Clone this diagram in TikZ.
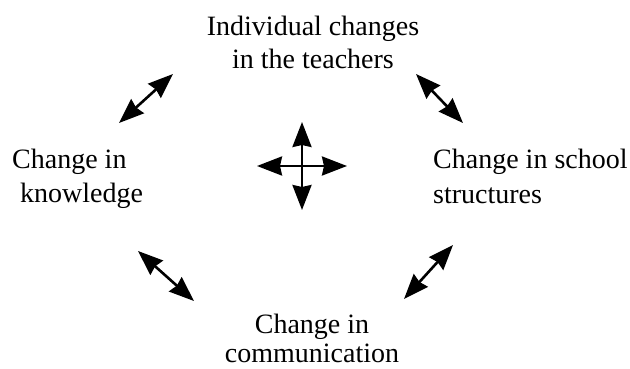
\documentclass[tikz,border=0pt]{standalone}
\usepackage{fontspec}
\setmainfont{Liberation Serif}
\usepackage{tikz}
\usetikzlibrary{arrows.meta}
\tikzstyle{label} = [inner sep=0pt, anchor=base]
\tikzstyle{line} = [draw, line width=2.6pt, {Stealth[length=25pt,width=19pt,inset=2pt]}-{Stealth[length=25pt,width=19pt,inset=2pt]}]

\begin{document}
\begin{tikzpicture}[x=1pt, y=-1pt]
  \useasboundingbox (0,0) rectangle (630,369);
   % Place nodes (base = baseline of the last line)
    \node [label, align=center, font=\fontsize{28}{33}\selectfont] (teachers) at (313,69) {Individual changes\\in the teachers};
    \node [label, align=left, anchor=base west, font=\fontsize{28}{34}\selectfont] (knowledge) at (12,202) {Change in\\\hspace{8pt}knowledge};
    \node [label, align=left, anchor=base west, font=\fontsize{28}{35}\selectfont] (school) at (433,203) {Change in school\\structures};
    \node [label, align=center, font=\fontsize{28}{29}\selectfont] (communication) at (312,362) {Change in\\communication};
   % Arrow ends
    \coordinate (tl1) at (119,123);  \coordinate (tl2) at (173,74);
    \coordinate (tr1) at (416,74);   \coordinate (tr2) at (463,123);
    \coordinate (bl1) at (138,251);  \coordinate (bl2) at (194,301);
    \coordinate (br1) at (453,245);  \coordinate (br2) at (404,299);
    \coordinate (up) at (302,122);   \coordinate (down) at (302,210);
    \coordinate (left) at (257,166); \coordinate (right) at (347,166);
   % Draw edges
    \path [line] (tl1) -- (tl2);
    \path [line] (tr1) -- (tr2);
    \path [line] (bl1) -- (bl2);
    \path [line] (br1) -- (br2);
    \path [line] (up) -- (down);
    \path [line] (left) -- (right);
  \end{tikzpicture}
\end{document}
